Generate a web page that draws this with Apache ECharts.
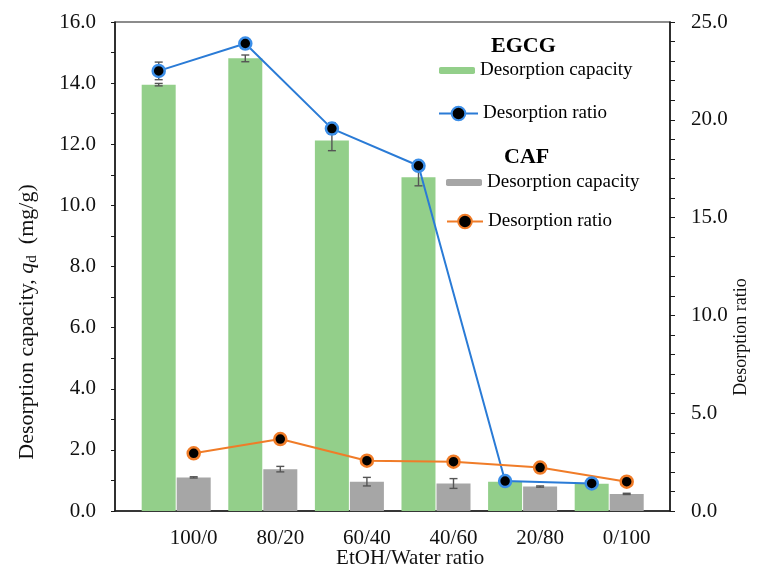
<!DOCTYPE html>
<html>
<head>
<meta charset="utf-8">
<script src="https://cdn.jsdelivr.net/npm/echarts@6/dist/echarts.min.js"></script>
<style>
  html, body { margin: 0; padding: 0; background: #fff; }
  #chart { width: 763px; height: 568px; }
</style>
</head>
<body>
<div id="chart"></div>
<script>
// EtOH/Water ratios of the eluent
const ratioLabels = ['100/0', '80/20', '60/40', '40/60', '20/80', '0/100'];

// Desorption capacity q_d (mg/g) with standard deviations
const egcgCapacity = [13.95, 14.81, 12.12, 10.92, 0.96, 0.89];
const egcgCapacityErr = [0.04, 0.11, 0.33, 0.28, 0.03, 0.03];
const cafCapacity = [1.10, 1.37, 0.96, 0.90, 0.80, 0.56];
const cafCapacityErr = [0.02, 0.09, 0.14, 0.16, 0.02, 0.02];

// Desorption ratio
const egcgRatio = [22.5, 23.9, 19.55, 17.65, 1.53, 1.41];
const egcgRatioErr = [0.45, 0.05, 0.29, 0.10, 0.05, 0.05];
const cafRatio = [2.95, 3.68, 2.57, 2.52, 2.22, 1.50];

// Axis ticks
const capacityTicks = { min: 0, max: 16, step: 1, labelEvery: 2 };
const ratioTicks = { min: 0, max: 25, step: 1, labelEvery: 5 };

const SERIF = '"Liberation Serif", "Times New Roman", serif';
const GREEN = '#93cf8a';
const GRAY = '#a6a6a6';
const BLUE = '#2a7bd6';
const ORANGE = '#f07c28';
const AXIS = '#1a1a1a';

function errData(values, errs) {
  return values.map((v, i) => [i, v - errs[i], v + errs[i]]);
}

function errorBars(offset) {
  return function (params, api) {
    const i = api.value(0);
    const lo = api.coord([i, api.value(1)]);
    const hi = api.coord([i, api.value(2)]);
    const x = lo[0] + offset;
    const cap = 4;
    const st = { stroke: '#555', lineWidth: 1.4 };
    return {
      type: 'group',
      children: [
        { type: 'line', shape: { x1: x, y1: lo[1], x2: x, y2: hi[1] }, style: st },
        { type: 'line', shape: { x1: x - cap, y1: hi[1], x2: x + cap, y2: hi[1] }, style: st },
        { type: 'line', shape: { x1: x - cap, y1: lo[1], x2: x + cap, y2: lo[1] }, style: st }
      ]
    };
  };
}

const legendNames = {
  'EGCG capacity': 'Desorption capacity',
  'EGCG ratio': 'Desorption ratio',
  'CAF capacity': 'Desorption capacity',
  'CAF ratio': 'Desorption ratio'
};
function legendAt(name, left, top, w, h) {
  return {
    data: [name], left: left, top: top, padding: 0,
    itemWidth: w, itemHeight: h, selectedMode: false,
    formatter: n => legendNames[n],
    textStyle: { fontFamily: SERIF, fontSize: 19, color: '#000' }
  };
}

const TOP = 22, BOTTOM = 57;
function gridAt(left, right, extra) {
  return Object.assign({ left: left, right: right, top: TOP, bottom: BOTTOM, outerBoundsMode: 'none' }, extra || {});
}

const chart = echarts.init(document.getElementById('chart'));
chart.setOption({
  animation: false,
  backgroundColor: '#fff',
  title: [
    { text: 'EGCG', left: 491, top: 35, padding: 0,
      textStyle: { fontFamily: SERIF, fontSize: 22, fontWeight: 'bold', color: '#000' } },
    { text: 'CAF', left: 504, top: 146, padding: 0,
      textStyle: { fontFamily: SERIF, fontSize: 22, fontWeight: 'bold', color: '#000' } }
  ],
  legend: [
    legendAt('EGCG capacity', 439, 61, 36, 7),
    legendAt('EGCG ratio', 438, 104, 39, 17),
    legendAt('CAF capacity', 446, 173, 36, 7),
    legendAt('CAF ratio', 446, 212, 36, 17)
  ],
  grid: [
    gridAt(115, 93, { show: true, borderColor: AXIS, borderWidth: 1.2 }),
    gridAt(132.9, 110.5),
    gridAt(115.4, 128),
    gridAt(150.4, 93)
  ],
  xAxis: [
    { gridIndex: 0, type: 'category', data: ratioLabels,
      axisLine: { lineStyle: { color: AXIS, width: 1.5 } },
      axisTick: { show: false }, axisLabel: { show: false } },
    { gridIndex: 1, type: 'category', data: ratioLabels, show: false },
    { gridIndex: 2, type: 'category', data: ratioLabels, show: false },
    { gridIndex: 3, type: 'category', data: ratioLabels,
      axisLine: { show: false },
      axisTick: { alignWithLabel: true, length: 5, lineStyle: { color: '#666' } },
      axisLabel: { fontFamily: SERIF, fontSize: 21, color: '#111', margin: 17 },
      name: 'EtOH/Water ratio', nameLocation: 'middle', nameGap: 37, nameMoveOverlap: false,
      nameTextStyle: { fontFamily: SERIF, fontSize: 21, color: '#111' } }
  ],
  yAxis: [
    { gridIndex: 0, type: 'value', position: 'left',
      min: capacityTicks.min, max: capacityTicks.max, interval: capacityTicks.step,
      splitLine: { show: false },
      axisLine: { show: true, lineStyle: { color: AXIS, width: 1.5 } },
      axisTick: { show: true, length: 4, lineStyle: { color: AXIS } },
      axisLabel: { fontFamily: SERIF, fontSize: 21, color: '#111', margin: 19,
        formatter: v => (Math.round(v) % capacityTicks.labelEvery === 0 ? v.toFixed(1) : '') } },
    { gridIndex: 0, type: 'value', position: 'right',
      min: ratioTicks.min, max: ratioTicks.max, interval: ratioTicks.step,
      splitLine: { show: false },
      axisLine: { show: true, lineStyle: { color: AXIS, width: 1.5 } },
      axisTick: { show: true, length: 5, lineStyle: { color: AXIS } },
      axisLabel: { fontFamily: SERIF, fontSize: 21, color: '#111', margin: 21,
        formatter: v => (Math.round(v) % ratioTicks.labelEvery === 0 ? v.toFixed(1) : '') } },
    { gridIndex: 1, type: 'value', min: capacityTicks.min, max: capacityTicks.max, show: false, splitLine: { show: false } },
    { gridIndex: 2, type: 'value', min: ratioTicks.min, max: ratioTicks.max, show: false, splitLine: { show: false } },
    { gridIndex: 3, type: 'value', min: ratioTicks.min, max: ratioTicks.max, show: false, splitLine: { show: false } }
  ],
  graphic: [
    { type: 'text', x: 27, y: 322, rotation: Math.PI / 2,
      style: {
        text: '{a|Desorption capacity, }{q|q}{s|d}{a|  (mg/g)}',
        align: 'center', verticalAlign: 'middle',
        rich: {
          a: { fontFamily: SERIF, fontSize: 22, fill: '#111', lineHeight: 25 },
          q: { fontFamily: SERIF, fontSize: 22, fontStyle: 'italic', fill: '#111', lineHeight: 25 },
          s: { fontFamily: SERIF, fontSize: 15, fill: '#111', lineHeight: 15, verticalAlign: 'bottom' }
        }
      } },
    { type: 'text', x: 741, y: 337, rotation: Math.PI / 2,
      style: { text: 'Desorption ratio', align: 'center', verticalAlign: 'middle',
        fontFamily: SERIF, fontSize: 18, fill: '#111' } }
  ],
  series: [
    { name: 'EGCG capacity', type: 'bar', xAxisIndex: 1, yAxisIndex: 2,
      data: egcgCapacity, barWidth: 34, barGap: '3%',
      itemStyle: { color: GREEN } },
    { name: 'CAF capacity', type: 'bar', xAxisIndex: 1, yAxisIndex: 2,
      data: cafCapacity, barWidth: 34, barGap: '3%',
      itemStyle: { color: GRAY } },
    { type: 'custom', xAxisIndex: 1, yAxisIndex: 2, z: 3,
      renderItem: errorBars(-17.5), encode: { x: 0, y: [1, 2] },
      data: errData(egcgCapacity, egcgCapacityErr) },
    { type: 'custom', xAxisIndex: 1, yAxisIndex: 2, z: 3,
      renderItem: errorBars(17.5), encode: { x: 0, y: [1, 2] },
      data: errData(cafCapacity, cafCapacityErr) },
    { type: 'custom', xAxisIndex: 2, yAxisIndex: 3, z: 3,
      renderItem: errorBars(0), encode: { x: 0, y: [1, 2] },
      data: errData(egcgRatio, egcgRatioErr) },
    { name: 'EGCG ratio', type: 'line', xAxisIndex: 2, yAxisIndex: 3, z: 4,
      data: egcgRatio, symbol: 'circle', symbolSize: 12,
      lineStyle: { color: BLUE, width: 2 },
      itemStyle: { color: '#000', borderColor: '#3b8ee8', borderWidth: 2.5 } },
    { name: 'CAF ratio', type: 'line', xAxisIndex: 3, yAxisIndex: 4, z: 4,
      data: cafRatio, symbol: 'circle', symbolSize: 12,
      lineStyle: { color: ORANGE, width: 2 },
      itemStyle: { color: '#000', borderColor: ORANGE, borderWidth: 2.5 } }
  ]
});
</script>
</body>
</html>
